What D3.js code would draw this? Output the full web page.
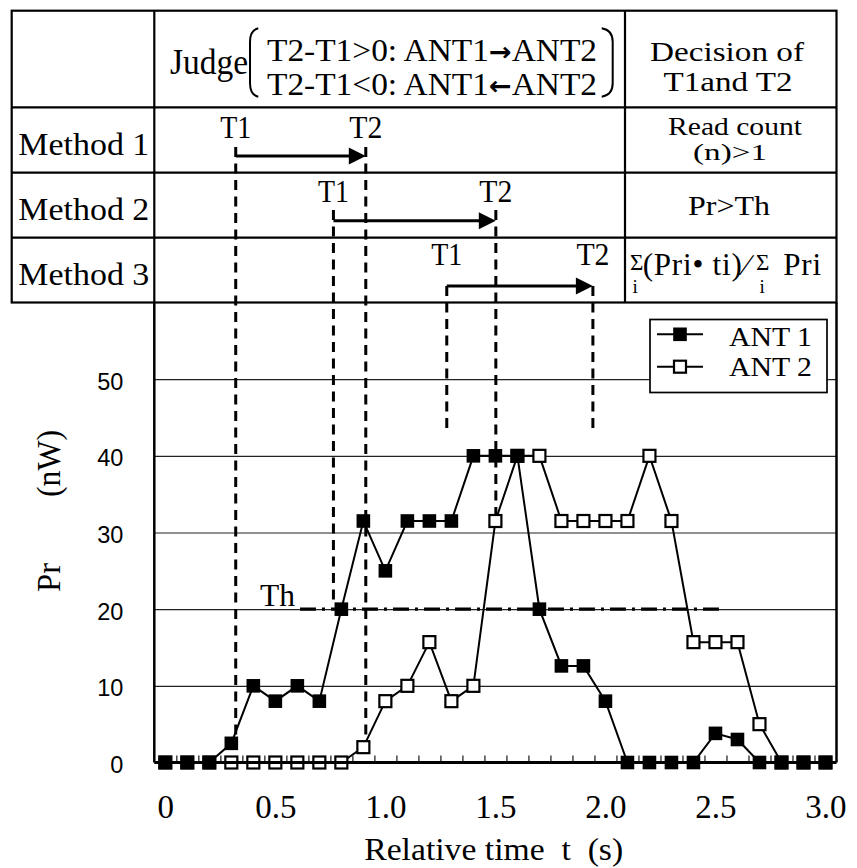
<!DOCTYPE html>
<html><head><meta charset="utf-8">
<script src="https://cdn.jsdelivr.net/npm/d3@7"></script>
<style>
body{margin:0;background:#fff}
svg text{font-family:"Liberation Serif","DejaVu Serif",serif;fill:#000}
</style></head><body>
<svg id="c" width="857" height="868"></svg>
<script>
// ---- data ----
const times=[0,0.1,0.2,0.3,0.4,0.5,0.6,0.7,0.8,0.9,1.0,1.1,1.2,1.3,1.4,1.5,1.6,1.7,1.8,1.9,2.0,2.1,2.2,2.3,2.4,2.5,2.6,2.7,2.8,2.9,3.0];
const ant1=[0,0,0,2.5,10,8,10,8,20,31.5,25,31.5,31.5,31.5,40,40,40,20,12.6,12.6,8,0,0,0,0,3.8,3,0,0,0,0];
const ant2=[0,0,0,0,0,0,0,0,0,2,8,10,15.7,8,10,31.5,40,40,31.5,31.5,31.5,31.5,40,31.5,15.7,15.7,15.7,5,0,0,0];
const seriesNames=["ANT 1","ANT 2"];
const threshold=20;
const thRange=[0.612,2.535];
const methods=["Method 1","Method 2","Method 3"];
const t1Times=[0.32,0.764,1.279];
const t2Times=[0.911,1.502,1.943];
const t1DashEnd=[3.6,20.7,43];
const t2DashEnd=[2.8,32.2,43];
const xTickValues=[0,0.5,1,1.5,2,2.5,3];
const xTickLabels=["0","0.5","1.0","1.5","2.0","2.5","3.0"];
const yTickValues=[0,10,20,30,40,50];
const gridValues=[10,20,30,40,50];

// ---- layout ----
const L=154.3, R=836.5, B=762.5, T=302.5;
const tableTop=10.7, tableLeft=11.7, headerBottom=107.3, rowLines=[172.7,237.7];
const colMid=625;
const rowArrowY=[156,220.7,286];
const rowDashStart=[147,210,286];
const rowLabelBase=[138,201.7,265];
const methodBase=[155,220,285];

const svg=d3.select("#c");
const x=d3.scaleLinear().domain([-0.05,3.05]).range([L,R]);
const y=d3.scaleLinear().domain([0,60]).range([B,T]);

function txt(g,s,xx,yy,size,len,anchor){
  const t=g.append("text").attr("x",xx).attr("y",yy).attr("font-size",size).text(s);
  if(anchor) t.attr("text-anchor",anchor);
  if(len) t.attr("textLength",len).attr("lengthAdjust","spacingAndGlyphs");
  return t;
}

// grid
svg.append("g").attr("transform",`translate(${L},0)`)
  .call(d3.axisLeft(y).tickValues(gridValues).tickSize(-(R-L)).tickFormat(""))
  .call(g=>g.select(".domain").remove())
  .call(g=>g.selectAll("line").attr("stroke","#222").attr("stroke-width",1.2));

// y labels
svg.append("g").attr("transform",`translate(${L},2.5)`)
  .call(d3.axisLeft(y).tickValues(yTickValues).tickSize(0).tickPadding(31))
  .call(g=>g.select(".domain").remove())
  .call(g=>g.selectAll("text").attr("font-size",23.5).style("font-family","'Liberation Sans',Arial,sans-serif"));

// threshold line
svg.append("line")
  .attr("x1",x(thRange[0])).attr("x2",x(thRange[1]))
  .attr("y1",y(threshold)).attr("y2",y(threshold))
  .attr("stroke","#000").attr("stroke-width",3.2)
  .attr("stroke-dasharray","16,6,3,6");
txt(svg,"Th",260,606,31,35);

// vertical dashed lines
const dashG=svg.append("g").attr("stroke","#000").attr("stroke-width",3).attr("stroke-dasharray","10,6.5").attr("fill","none");
methods.forEach((m,i)=>{
  dashG.append("line").attr("x1",x(t1Times[i])).attr("x2",x(t1Times[i])).attr("y1",rowDashStart[i]).attr("y2",y(t1DashEnd[i]));
  dashG.append("line").attr("x1",x(t2Times[i])).attr("x2",x(t2Times[i])).attr("y1",rowDashStart[i]).attr("y2",y(t2DashEnd[i]));
});

// series
const line=d3.line().x((d,i)=>x(times[i])).y(d=>y(d));
svg.append("path").datum(ant2).attr("d",line).attr("fill","none").attr("stroke","#000").attr("stroke-width",2);
svg.append("g").selectAll("rect").data(ant2).join("rect")
  .attr("x",(d,i)=>x(times[i])-6).attr("y",d=>y(d)-6).attr("width",12).attr("height",12)
  .attr("fill","#fff").attr("stroke","#000").attr("stroke-width",2.2);
svg.append("path").datum(ant1).attr("d",line).attr("fill","none").attr("stroke","#000").attr("stroke-width",2);
svg.append("g").selectAll("rect").data(ant1).join("rect")
  .attr("x",(d,i)=>x(times[i])-6.8).attr("y",d=>y(d)-6.8).attr("width",13.6).attr("height",13.6)
  .attr("fill","#000");

// bottom axis: minor ticks + line
const mids=times.slice(1).map((t,i)=>(t+times[i])/2);
svg.append("g").attr("transform",`translate(0,${B})`)
  .call(d3.axisBottom(x).tickValues(mids).tickSize(-7).tickFormat(""))
  .call(g=>g.select(".domain").remove())
  .call(g=>g.selectAll("line").attr("stroke","#444").attr("stroke-width",1.5));
svg.append("line").attr("x1",L).attr("x2",R).attr("y1",B).attr("y2",B).attr("stroke","#000").attr("stroke-width",3);
svg.append("g").attr("transform",`translate(0,${B})`)
  .call(d3.axisBottom(x).tickValues(xTickValues).tickFormat((d,i)=>xTickLabels[i]).tickSize(0).tickPadding(32))
  .call(g=>g.select(".domain").remove())
  .call(g=>g.selectAll("text").attr("font-size",33).style("font-family","'Liberation Serif',serif"));

// plot side axes
svg.append("line").attr("x1",L).attr("x2",L).attr("y1",T).attr("y2",B).attr("stroke","#000").attr("stroke-width",2.5);
svg.append("line").attr("x1",R).attr("x2",R).attr("y1",T).attr("y2",B).attr("stroke","#000").attr("stroke-width",2.5);

// axis titles
txt(svg,"Relative time  t  (s)",493.7,860,32,259,"middle").style("white-space","pre");
txt(svg,"Pr",0,0,33,29).attr("transform","translate(60,592) rotate(-90)");
txt(svg,"(nW)",0,0,33,67).attr("transform","translate(60,497) rotate(-90)");

// legend
const lg=svg.append("g");
lg.append("rect").attr("x",650).attr("y",319.5).attr("width",827-650).attr("height",73)
  .attr("fill","#fff").attr("stroke","#000").attr("stroke-width",1.7);
[334.3,366.7].forEach((ly,i)=>{
  lg.append("line").attr("x1",657).attr("x2",703).attr("y1",ly).attr("y2",ly).attr("stroke","#000").attr("stroke-width",2);
  if(i===0) lg.append("rect").attr("x",680-6.8).attr("y",ly-6.8).attr("width",13.6).attr("height",13.6).attr("fill","#000");
  else lg.append("rect").attr("x",680-6).attr("y",ly-6).attr("width",12).attr("height",12).attr("fill","#fff").attr("stroke","#000").attr("stroke-width",2.2);
  txt(lg,seriesNames[i],729,[345.7,376][i],28,83);
});

// ---- table ----
const tb=svg.append("g").attr("stroke","#000").attr("stroke-width",2.2).attr("fill","none");
tb.append("rect").attr("x",tableLeft).attr("y",tableTop).attr("width",R-tableLeft).attr("height",T-tableTop);
[headerBottom,...rowLines].forEach(ry=>tb.append("line").attr("x1",tableLeft).attr("x2",R).attr("y1",ry).attr("y2",ry));
tb.append("line").attr("x1",L).attr("x2",L).attr("y1",tableTop).attr("y2",T);
tb.append("line").attr("x1",colMid).attr("x2",colMid).attr("y1",tableTop).attr("y2",T);
// brackets
tb.append("path").attr("d","M258.3,28.3 Q250,30 250,42 L250,83 Q250,95 258.3,96.7").attr("stroke-width",2);
tb.append("path").attr("d","M601.7,28.3 Q612.7,30 612.7,42 L612.7,83 Q612.7,95 601.7,96.7").attr("stroke-width",2);

const tt=svg.append("g");
txt(tt,"Judge",170,74,35,78);
function headerLine(yy,arrow){
  const t=tt.append("text").attr("x",267).attr("y",yy).attr("font-size",32)
    .attr("textLength",330).attr("lengthAdjust","spacingAndGlyphs");
  t.append("tspan").text(arrow==="r"?"T2-T1>0: ANT1":"T2-T1<0: ANT1");
  t.append("tspan").style("font-family","'DejaVu Sans',sans-serif").attr("font-weight","bold").attr("font-size",26)
    .text(arrow==="r"?"\u2192":"\u2190");
  t.append("tspan").text("ANT2");
}
headerLine(61,"r");
headerLine(95,"l");
txt(tt,"Decision of",727,61,28,154,"middle");
txt(tt,"T1and T2",728,90.7,28,129,"middle");
txt(tt,"Read count",735,134.5,26,134,"middle");
txt(tt,"(n)>1",730,160,24,74,"middle");
txt(tt,"Pr>Th",729,215,28,82,"middle");
// formula: one text element with positioned parts
const fm=tt.append("text");
fm.append("tspan").attr("x",630).attr("y",270).attr("font-size",23).text("\u03A3");
fm.append("tspan").attr("x",632.5).attr("y",293).attr("font-size",19).text("i");
fm.append("tspan").attr("x",642.7).attr("y",275).attr("font-size",31).attr("letter-spacing",0.8).text("(Pri\u2022 ti)");
fm.append("tspan").attr("x",744).attr("y",275).attr("font-size",30).text("\u2215");
fm.append("tspan").attr("x",756).attr("y",270).attr("font-size",23).text("\u03A3");
fm.append("tspan").attr("x",759.5).attr("y",293).attr("font-size",19).text("i");
fm.append("tspan").attr("x",783.3).attr("y",275).attr("font-size",31).attr("letter-spacing",0.8).text("Pri");
methods.forEach((m,i)=>txt(tt,m,18.3,methodBase[i],31,131));

// arrows + T labels
const ag=svg.append("g");
methods.forEach((m,i)=>{
  const x1=x(t1Times[i]), x2=x(t2Times[i]), ay=rowArrowY[i];
  ag.append("line").attr("x1",x1).attr("x2",x2-14).attr("y1",ay).attr("y2",ay).attr("stroke","#000").attr("stroke-width",3);
  ag.append("path").attr("d",d3.line()([[x2,ay],[x2-17,ay-8.5],[x2-17,ay+8.5]])+"Z").attr("fill","#000");
  txt(ag,"T1",x1,rowLabelBase[i],32,31,"middle");
  txt(ag,"T2",x2,rowLabelBase[i],32,33,"middle");
});
</script>
</body></html>
